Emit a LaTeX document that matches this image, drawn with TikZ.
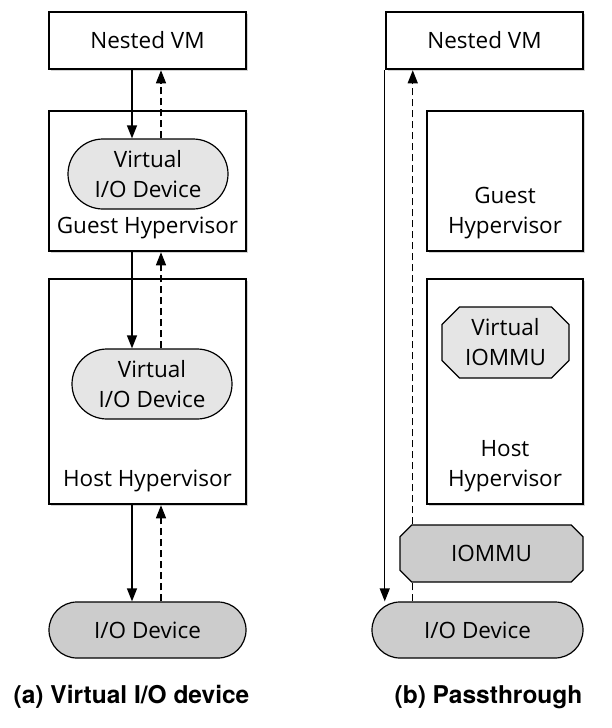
\documentclass[tikz,border=0pt]{standalone}
\usepackage{fontspec}
\setmainfont{Open Sans}
\newfontfamily\capfont{TeX Gyre Heros}
\usetikzlibrary{shapes.misc,shadows,arrows.meta,positioning}

\begin{document}
\begin{tikzpicture}[x=1pt,y=-1pt,
    font=\fontsize{22.5}{30}\selectfont,
    box/.style={draw,line width=2.5pt,fill=white,inner sep=0pt,
        drop shadow={shadow xshift=1.5pt,shadow yshift=-1.5pt,opacity=.35}},
    vdev/.style={rounded rectangle,draw,line width=1.2pt,fill=gray!20,
        align=center,minimum width=160pt,minimum height=70pt,inner sep=0pt},
    pdev/.style={rounded rectangle,draw,line width=1.2pt,fill=gray!40,
        minimum height=56pt,inner sep=0pt},
    mmu/.style={chamfered rectangle,chamfered rectangle xsep=14pt,
        draw,line width=1.2pt,align=center,inner sep=0pt},
    lbl/.style={inner sep=0pt,align=center},
    captxt/.style={inner sep=0pt,font=\capfont\bfseries\fontsize{24.5}{29}\selectfont},
    flow/.style={line width=1.3pt,-{Triangle[length=13pt,width=10pt]}},
    back/.style={flow,dash pattern=on 7pt off 4pt}
]
\useasboundingbox (0,0) rectangle (611,728);

\node[box,minimum width=197pt,minimum height=57pt] (vm1) at (147.5,40.5) {Nested VM};
\node[box,minimum width=197pt,minimum height=140pt] (gh1) at (147.5,181) {};
\node[lbl,above=13pt of gh1.south] (gh1t) {Guest Hypervisor};
\node[vdev] (vio1) at (148,174) {Virtual\\I/O Device};
\node[box,minimum width=197pt,minimum height=225pt] (hh1) at (147.5,391.5) {};
\node[lbl,above=13pt of hh1.south] (hh1t) {Host Hypervisor};
\node[vdev] (vio2) at (152,384) {Virtual\\I/O Device};
\node[pdev,minimum width=197pt] (io1) at (147.5,630) {I/O Device};

\draw[flow] ([xshift=-15.5pt]vm1.south) -- ([xshift=-15.5pt]vm1.south |- vio1.north);
\draw[back] ([xshift=13.5pt]vm1.south |- vio1.north) -- ([xshift=13.5pt]vm1.south);
\draw[flow] ([xshift=-15.5pt]gh1.south) -- ([xshift=-15.5pt]gh1.south |- vio2.north);
\draw[back] ([xshift=13.5pt]gh1.south |- vio2.north) -- ([xshift=13.5pt]gh1.south);
\draw[flow] ([xshift=-15.5pt]hh1.south) -- ([xshift=-15.5pt]hh1.south |- io1.north);
\draw[back] ([xshift=13.5pt]hh1.south |- io1.north) -- ([xshift=13.5pt]hh1.south);

\node[box,minimum width=197pt,minimum height=57pt] (vm2) at (484.5,40.5) {Nested VM};
\node[box,minimum width=156pt,minimum height=140pt] (gh2) at (505,181) {};
\node[lbl,above=13pt of gh2.south] (gh2t) {Guest\\Hypervisor};
\node[box,minimum width=156pt,minimum height=225pt] (hh2) at (505,391.5) {};
\node[lbl,above=13pt of hh2.south] (hh2t) {Host\\Hypervisor};
\node[mmu,fill=gray!20,minimum width=127pt,minimum height=71pt] (vmmu) at (505.5,342.5) {Virtual\\IOMMU};
\node[pdev,minimum width=211pt] (io2) at (477.5,630) {I/O Device};

\draw[flow] (vm2.south west) -- (vm2.south west |- io2.north);
\draw[back] ([xshift=28pt]vm2.south west |- io2.north) -- ([xshift=28pt]vm2.south west);

\node[mmu,fill=gray!40,minimum width=183pt,minimum height=57pt] (mmu) at (491.5,553.5) {IOMMU};

\node[captxt] (capa) at (131.5,697) {(a) Virtual I/O device};
\node[captxt] (capb) at (488.5,697) {(b) Passthrough};
\end{tikzpicture}
\end{document}
